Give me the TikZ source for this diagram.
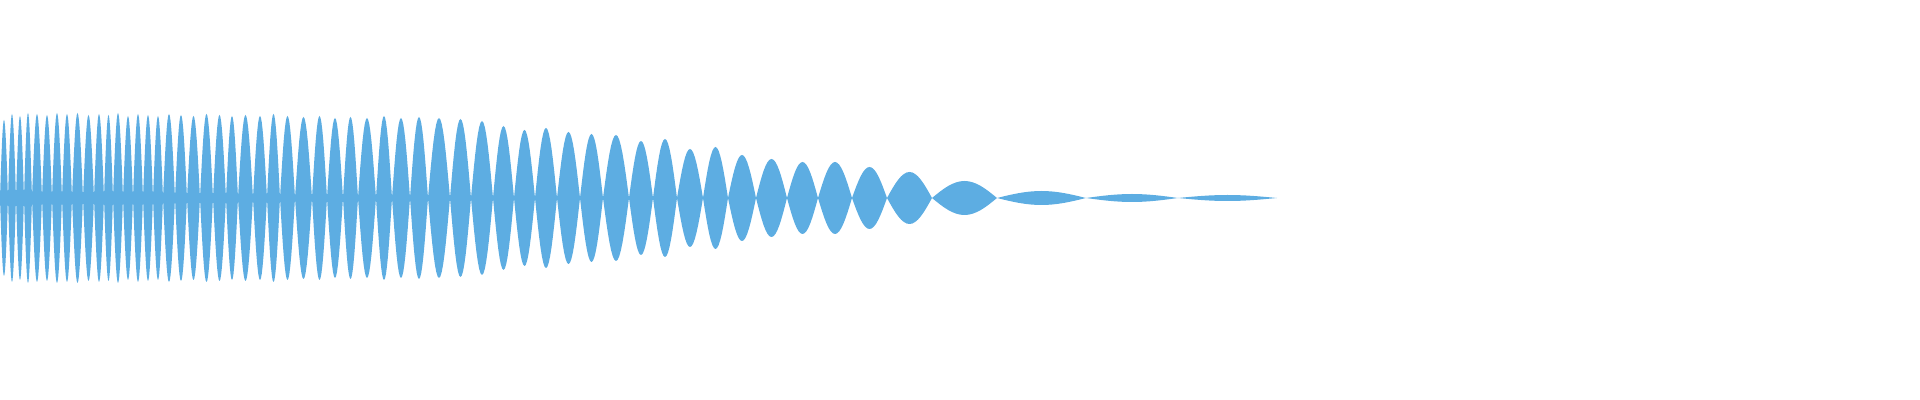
\documentclass[tikz,border=0pt]{standalone}
\definecolor{wave}{HTML}{5DADE2}
\begin{document}
\begin{tikzpicture}[x=0.01cm,y=0.01cm,
		lobe/.style={fill=wave,draw=none}]
		\useasboundingbox (0,0) rectangle (1920,400);
		%Dense part
		\foreach \a/\b/\h in {0/8/78,8/16/84,16/24/82,24/32/85,32/42/84,42/52/83,52/62/85,
			62/72/84,72/83/85,83/94/83,94/104/84,104/113/83,113/123/85,123/133/82,
			133/143/84,143/153/83,153/163/82,163/175/84,175/187/83,187/200/82,
			200/213/84,213/226/83,226/238/82,238/253/83,253/267/82,267/280/84,
			280/295/82,295/312/81,312/327/82,327/343/80,343/358/81,358/376/80,
			376/392/82,392/410/80,410/428/81,428/450/80,450/471/79,471/493/77}
		\fill[lobe] plot[domain=0:1,samples=17] ({\a+(\b-\a)*\x},{202+\h*sin(180*\x)})
			-- plot[domain=1:0,samples=17] ({\a+(\b-\a)*\x},{202-\h*sin(180*\x)}) -- cycle;
		%Slow part
		\foreach \a/\b/\h in {493/514/72,514/535/68,535/557/70,557/580/66,580/603/64,
			603/629/63,629/653/57,653/677/59,677/703/49,703/728/51,728/756/43,
			756/787/39,787/818/36,818/852/36,852/887/31,887/932/26,932/997/17,
			997/1086/7,1086/1178/4,1178/1277/3}
		\fill[lobe] plot[domain=0:1,samples=17] ({\a+(\b-\a)*\x},{202+\h*sin(180*\x)})
			-- plot[domain=1:0,samples=17] ({\a+(\b-\a)*\x},{202-\h*sin(180*\x)}) -- cycle;
\end{tikzpicture}
\end{document}
